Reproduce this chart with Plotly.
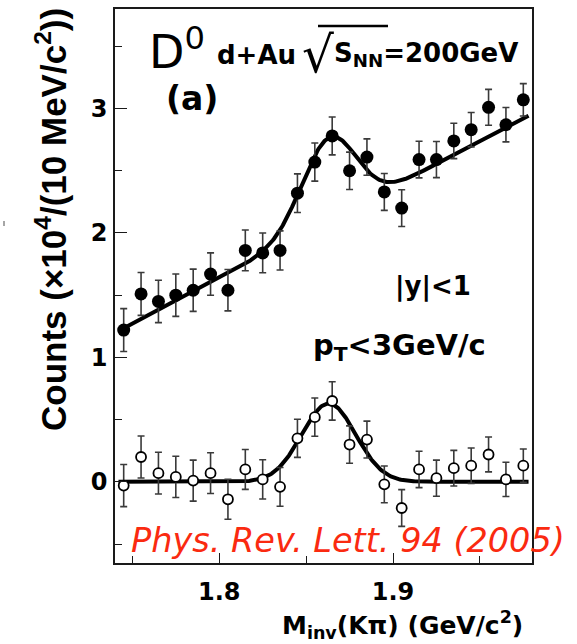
import numpy as np
import plotly.graph_objects as go

# K-pi invariant mass bins (GeV/c^2), 10 MeV wide
mass = [1.745, 1.755, 1.765, 1.775, 1.785, 1.795, 1.805, 1.815, 1.825, 1.835, 1.845, 1.855,
        1.865, 1.875, 1.885, 1.895, 1.905, 1.915, 1.925, 1.935, 1.945, 1.955, 1.965, 1.975]

# unlike-sign pair counts (x10^4 per 10 MeV/c^2)
counts_all = [1.22, 1.51, 1.45, 1.50, 1.54, 1.67, 1.54, 1.86, 1.84, 1.86, 2.32, 2.57,
              2.78, 2.50, 2.61, 2.33, 2.20, 2.59, 2.59, 2.74, 2.83, 3.01, 2.87, 3.07]
err_all = [0.172, 0.172, 0.170, 0.170, 0.170, 0.170, 0.166, 0.164, 0.160, 0.157, 0.155, 0.153,
           0.152, 0.150, 0.146, 0.148, 0.148, 0.147, 0.145, 0.142, 0.138, 0.144, 0.138, 0.130]

# background-subtracted counts
counts_sub = [-0.03, 0.20, 0.07, 0.04, 0.01, 0.07, -0.14, 0.10, 0.02, -0.04, 0.35, 0.52,
              0.65, 0.30, 0.34, -0.02, -0.21, 0.10, 0.03, 0.11, 0.13, 0.22, 0.02, 0.13]
err_sub = [0.169, 0.169, 0.168, 0.166, 0.165, 0.164, 0.161, 0.160, 0.158, 0.156, 0.153, 0.154,
           0.154, 0.150, 0.148, 0.148, 0.148, 0.146, 0.145, 0.143, 0.142, 0.140, 0.138, 0.134]

# fit: Gaussian signal (+ linear background for the upper spectrum)
PEAK_MU = 1.863
PEAK_SIGMA = 0.0155
PEAK_AMP_ALL = 0.665
PEAK_AMP_SUB = 0.63
BKG_AT_START = 1.235
BKG_SLOPE = 7.33
BKG_M0 = 1.745

m_fit_all = np.linspace(1.745, 1.978, 400)
m_fit_sub = np.linspace(1.742, 1.978, 400)
gauss = lambda m, a: a * np.exp(-(m - PEAK_MU) ** 2 / (2 * PEAK_SIGMA ** 2))
fit_all = BKG_AT_START + BKG_SLOPE * (m_fit_all - BKG_M0) + gauss(m_fit_all, PEAK_AMP_ALL)
fit_sub = gauss(m_fit_sub, PEAK_AMP_SUB)

W, H = 577, 644
L, R, T, B = 115, 45, 9, 81
PW, PH = W - L - R, H - T - B


def px(x):
    return (x - L) / PW


def py(y):
    return (H - B - y) / PH


BOLD = "DejaVu Sans"
ERR_COLOR = "#3a3a3a"

fig = go.Figure()
fig.add_trace(go.Scatter(x=m_fit_all, y=fit_all, mode="lines",
                         line=dict(color="black", width=4), hoverinfo="skip"))
fig.add_trace(go.Scatter(x=m_fit_sub, y=fit_sub, mode="lines",
                         line=dict(color="black", width=4), hoverinfo="skip"))
fig.add_trace(go.Scatter(
    x=mass, y=counts_all, mode="markers",
    marker=dict(symbol="circle", size=13, color="black"),
    error_y=dict(type="data", array=err_all, color=ERR_COLOR, thickness=1.6, width=3.5)))
fig.add_trace(go.Scatter(
    x=mass, y=counts_sub, mode="markers",
    marker=dict(symbol="circle", size=10, color="white", line=dict(color="black", width=1.8)),
    error_y=dict(type="data", array=err_sub, color=ERR_COLOR, thickness=1.6, width=3.5)))

axis_common = dict(showline=True, linecolor="#1a1a1a", linewidth=1.6, mirror=True,
                   showgrid=False, zeroline=False, ticks="inside", tickcolor="#1a1a1a",
                   tickwidth=1.4, tickfont=dict(family=BOLD, size=24, color="black", weight="bold"))

fig.update_xaxes(range=[1.74, 1.98], tickvals=[1.8, 1.9], ticktext=["1.8", "1.9"], ticklen=10,
                 minor=dict(tickvals=[1.75, 1.85, 1.95], ticklen=7, ticks="inside",
                            tickcolor="#1a1a1a", tickwidth=1.4),
                 ticklabelstandoff=6, **axis_common)
fig.update_yaxes(range=[-0.652, 3.8], tickvals=[0, 1, 2, 3], ticklen=12,
                 minor=dict(tickvals=[-0.5, 0.5, 1.5, 2.5, 3.5], ticklen=7, ticks="inside",
                            tickcolor="#1a1a1a", tickwidth=1.4),
                 ticklabelstandoff=1, **axis_common)


def note(text, x, y, size, xanchor="center", family=BOLD, color="black", **kw):
    fig.add_annotation(text=text, x=px(x), y=py(y), xref="paper", yref="paper",
                       xanchor=xanchor, yanchor="middle", showarrow=False,
                       font=dict(family=family, size=size, color=color), **kw)


note("D<sup>0</sup>", 147, 49, 46, xanchor="left")
note("<b>(a)</b>", 192, 99, 33)
note("<b>d+Au</b>", 215, 55, 26, xanchor="left")
note("√", 301, 55, 50, xanchor="left", borderpad=0)
note("<b>S<sub>NN</sub>=200GeV</b>", 333, 55, 26, xanchor="left", borderpad=0)
note("<b>|y|<1</b>", 433, 286, 26)
note("<b>p<sub>T</sub><3GeV/c</b>", 399, 347, 29)
note("<i>Phys. Rev. Lett. 94 (2005)</i>", 129, 540, 33.5, xanchor="left", color="#fa2a10")
note("<b>M<sub>inv</sub>(Kπ) (GeV/c<sup>2</sup>)</b>", 402, 625, 25)
note("<b>Counts (×10<sup>4</sup>/(10 MeV/c<sup>2</sup>))</b>", 51, 220, 35,
     family="Liberation Sans", textangle=-90)

# overline of the square root
fig.add_shape(type="line", xref="paper", yref="paper", x0=px(318), x1=px(388),
              y0=py(26), y1=py(26), line=dict(color="black", width=2.5))
# small mark at the left edge
fig.add_shape(type="line", xref="paper", yref="paper", x0=px(4), x1=px(4),
              y0=py(221), y1=py(226), line=dict(color="#888888", width=1.5))

fig.update_layout(width=W, height=H, margin=dict(l=L, r=R, t=T, b=B, autoexpand=False),
                  paper_bgcolor="white", plot_bgcolor="white", showlegend=False)

fig.write_html("out.html")
